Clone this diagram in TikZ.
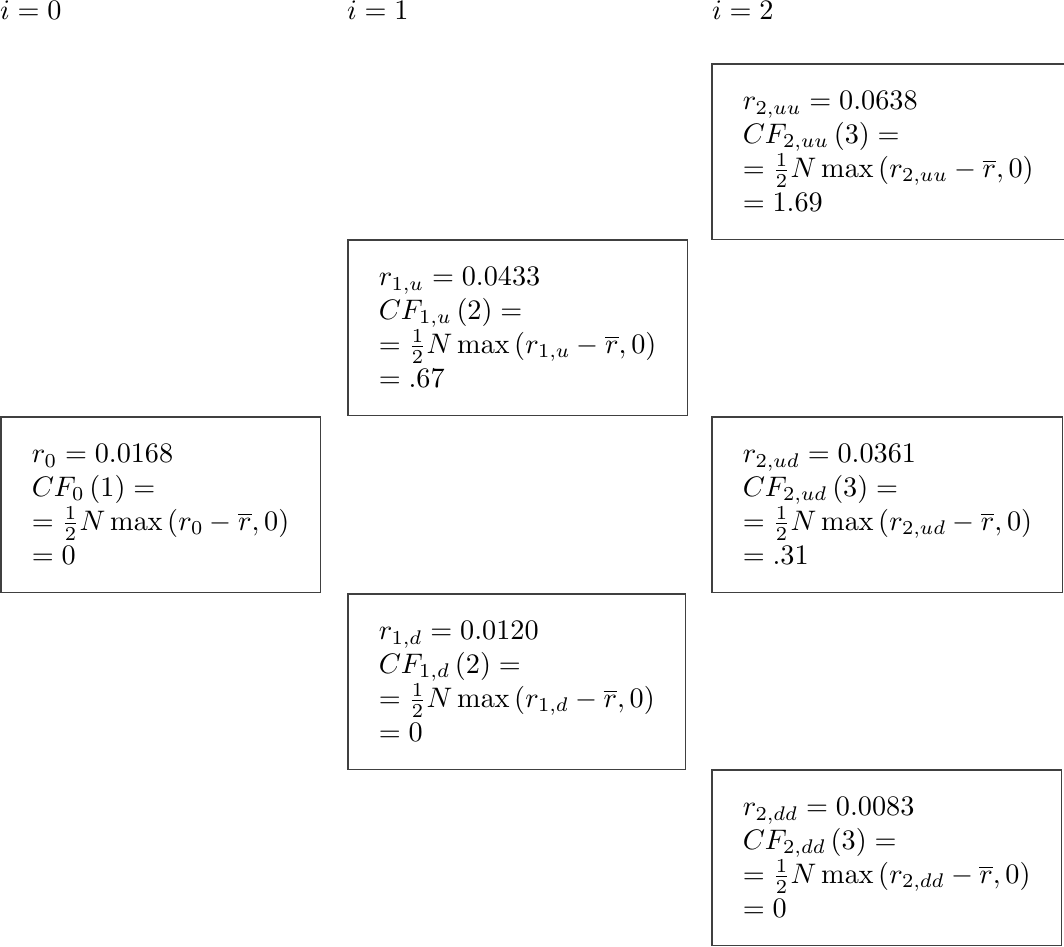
\documentclass[tikz,border=0pt]{standalone}
\usepackage{amssymb}
\usepackage{tikz}

\begin{document}
\begin{tikzpicture}[x=0.01245cm, y=-0.01245cm,
  every node/.style={outer sep=0pt},
  ratebox/.style={draw=black!75, line width=0.4pt, anchor=north west, align=left,
    inner xsep=10.9pt, minimum height=2.18cm},
  steplabel/.style={anchor=base west, inner sep=0pt}]
\useasboundingbox (0,0) rectangle (1064,947);

% time steps
\node[steplabel] (i0) at (0,20) {$i=0$};
\node[steplabel] (i1) at (347,20) {$i=1$};
\node[steplabel] (i2) at (712,20) {$i=2$};

% i = 0
\node[ratebox] (r0) at (1,417) {$r_{0}=0.0168$\\ $CF_{0}\left(1\right)=$\\ $=\frac{1}{2}N\max\left(r_{0}-\overline{r},0\right)$\\ $=0$};

% i = 1
\node[ratebox] (r1u) at (348,240) {$r_{1,u}=0.0433$\\ $CF_{1,u}\left(2\right)=$\\ $=\frac{1}{2}N\max\left(r_{1,u}-\overline{r},0\right)$\\ $=.67$};
\node[ratebox] (r1d) at (348,594) {$r_{1,d}=0.0120$\\ $CF_{1,d}\left(2\right)=$\\ $=\frac{1}{2}N\max\left(r_{1,d}-\overline{r},0\right)$\\ $=0$};

% i = 2
\node[ratebox] (r2uu) at (712,64) {$r_{2,uu}=0.0638$\\ $CF_{2,uu}\left(3\right)=$\\ $=\frac{1}{2}N\max\left(r_{2,uu}-\overline{r},0\right)$\\ $=1.69$};
\node[ratebox] (r2ud) at (712,417) {$r_{2,ud}=0.0361$\\ $CF_{2,ud}\left(3\right)=$\\ $=\frac{1}{2}N\max\left(r_{2,ud}-\overline{r},0\right)$\\ $=.31$};
\node[ratebox] (r2dd) at (712,770) {$r_{2,dd}=0.0083$\\ $CF_{2,dd}\left(3\right)=$\\ $=\frac{1}{2}N\max\left(r_{2,dd}-\overline{r},0\right)$\\ $=0$};
\end{tikzpicture}
\end{document}
